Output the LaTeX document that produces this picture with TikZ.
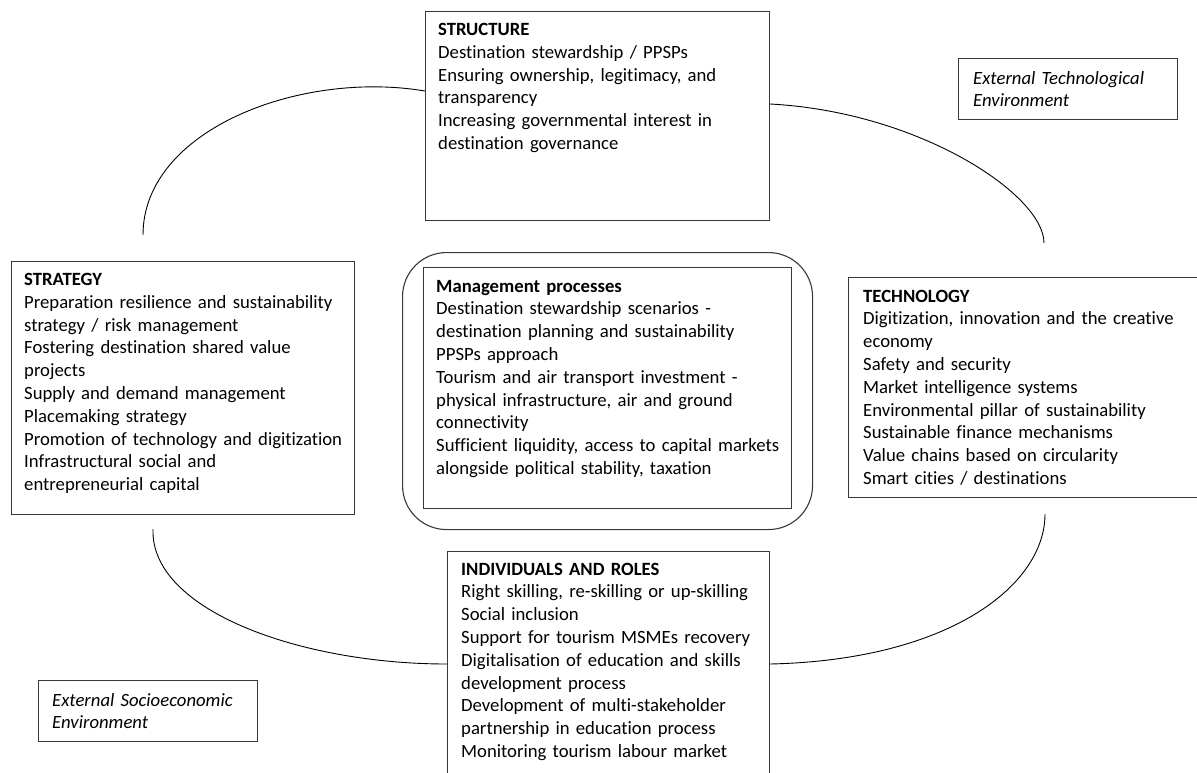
\documentclass[tikz,border=0pt]{standalone}
\usepackage{fontspec}
\setmainfont[Ligatures=NoCommon]{Carlito}
\usetikzlibrary{calc}

\tikzset{
  frame/.style={draw=black!78, line width=1.1pt, inner sep=0pt, anchor=north west},
  body/.style={inner sep=0pt, anchor=base west, text width=#1, align=left,
    font=\fontsize{18.7}{22.8}\selectfont},
  loop/.style={draw=black, line width=0.9pt},
}

\begin{document}
\begin{tikzpicture}[x=1pt, y=-1pt]
  \useasboundingbox (0,0) rectangle (1197,772);
  \fill[white] (0,0) rectangle (1197,772);
  \clip (0,0) rectangle (1197,772);

  % frames
  \node[frame, minimum width=344pt, minimum height=209pt] (strF) at (425,11) {};
  \node[frame, minimum width=219pt, minimum height=61pt] (etF) at (958,58) {};
  \node[frame, minimum width=343pt, minimum height=253pt] (sgF) at (11,261) {};
  \node[frame, rounded corners=44pt, minimum width=410pt, minimum height=277pt] (mgO) at (402,252) {};
  \node[frame, minimum width=368pt, minimum height=241pt] (mgF) at (423,267) {};
  \node[frame, minimum width=362pt, minimum height=220pt] (tcF) at (848,277) {};
  \node[frame, minimum width=322pt, minimum height=240pt] (indF) at (447,551) {};
  \node[frame, minimum width=219pt, minimum height=61pt] (esF) at (38,680) {};

  % texts
  \node[body=328pt] (strT) at ($(strF.north west)+(13,24.5)$)
    {\textbf{STRUCTURE}\\Destination stewardship / PPSPs\\Ensuring ownership, legitimacy, and\\transparency\\Increasing governmental interest in\\destination governance};
  \node[body=200pt] (etT) at ($(etF.north west)+(15,26)$)
    {\itshape External Technological\\Environment};
  \node[body=328pt] (sgT) at ($(sgF.north west)+(13,24.5)$)
    {\textbf{STRATEGY}\\Preparation resilience and sustainability\\strategy / risk management\\Fostering destination shared value\\projects\\Supply and demand management\\Placemaking strategy\\Promotion of technology and digitization\\Infrastructural social and\\entrepreneurial capital};
  \node[body=353pt] (mgT) at ($(mgF.north west)+(13,25)$)
    {\textbf{Management processes}\\Destination stewardship scenarios -\\destination planning and sustainability\\PPSPs approach\\Tourism and air transport investment -\\physical infrastructure, air and ground\\connectivity\\Sufficient liquidity, access to capital markets\\alongside political stability, taxation};
  \node[body=340pt] (tcT) at ($(tcF.north west)+(15,25)$)
    {\textbf{TECHNOLOGY}\\Digitization, innovation and the creative\\economy\\Safety and security\\Market intelligence systems\\Environmental pillar of sustainability\\Sustainable finance mechanisms\\Value chains based on circularity\\Smart cities / destinations};
  \node[body=306pt] (indT) at ($(indF.north west)+(14,24)$)
    {\textbf{INDIVIDUALS AND ROLES}\\Right skilling, re-skilling or up-skilling\\Social inclusion\\Support for tourism MSMEs recovery\\Digitalisation of education and skills\\development process\\Development of multi-stakeholder\\partnership in education process\\Monitoring tourism labour market};
  \node[body=200pt] (esT) at ($(esF.north west)+(14,26)$)
    {\itshape External Socioeconomic\\Environment};

  % loop of curves around the management processes
  \coordinate (tlEnd) at (143,235);
  \coordinate (trEnd) at (1044,243);
  \coordinate (blEnd) at (153,529);
  \coordinate (brEnd) at (1045,514);
  \draw[loop] ($(strF.north west)+(0,80)$) .. controls (300,70) and (143,130) .. (tlEnd);
  \draw[loop] ($(strF.north east)+(0,93)$) .. controls (920,112) and (1044,195) .. (trEnd);
  \draw[loop] (blEnd) .. controls (150,610) and (300,664) .. ($(indF.north west)+(0,113)$);
  \draw[loop] ($(indF.north east)+(0,113)$) .. controls (950,660) and (1045,585) .. (brEnd);
\end{tikzpicture}
\end{document}
